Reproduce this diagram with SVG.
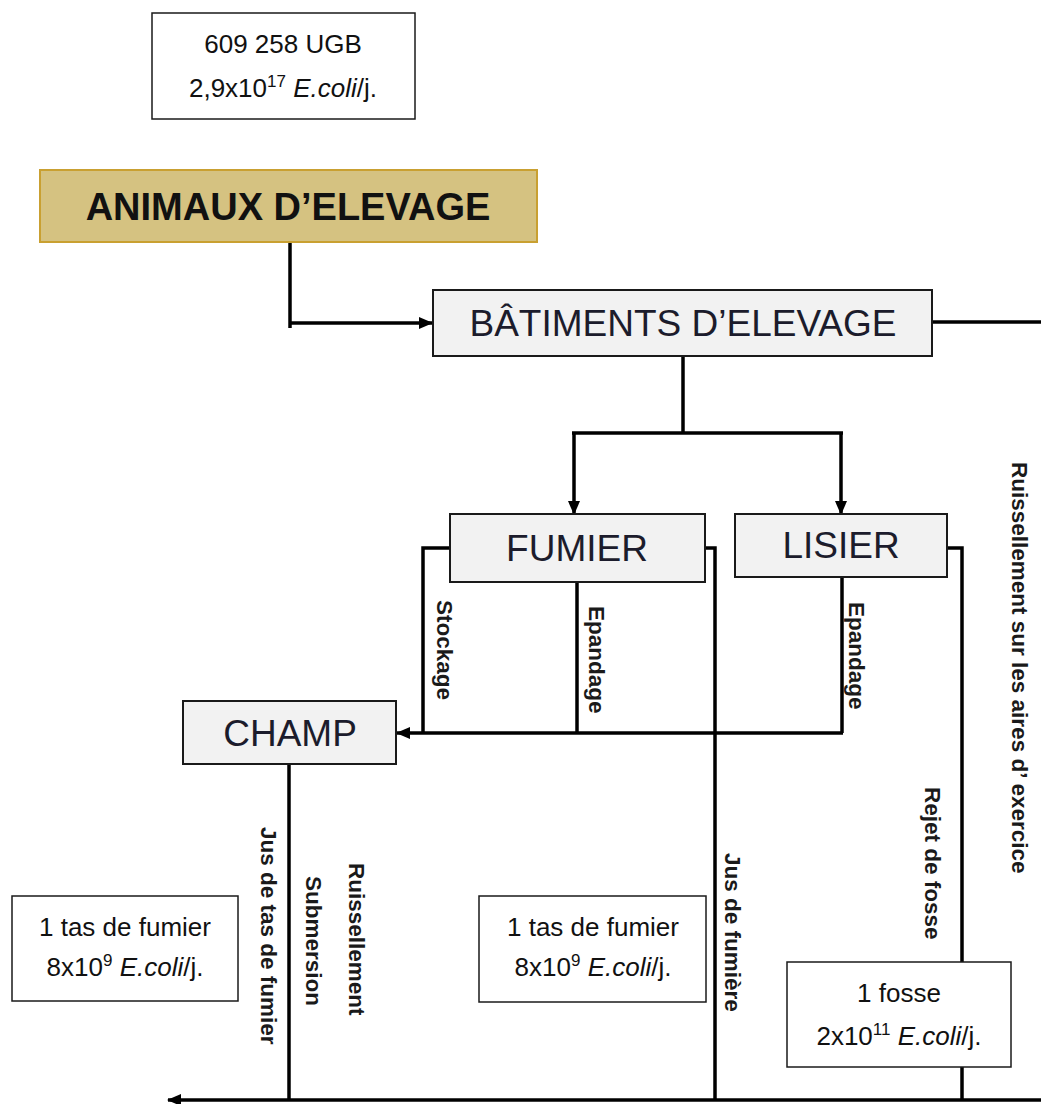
<svg xmlns="http://www.w3.org/2000/svg" width="1041" height="1104" viewBox="0 0 1041 1104">
<style>
.box{fill:#f2f2f2;stroke:#1a1a1a;stroke-width:2}
.wbox{fill:#fff;stroke:#1a1a1a;stroke-width:1.5}
.lbl{font-family:"Liberation Sans",Arial,sans-serif;font-size:37px;fill:#1c1c2c;text-anchor:middle}
.info{font-family:"Liberation Sans",Arial,sans-serif;font-size:26px;fill:#111;text-anchor:middle}
.vt{font-family:"Liberation Sans",Arial,sans-serif;font-size:22.5px;font-weight:bold;fill:#1a1a1a}
.c{fill:none;stroke:#000;stroke-width:3.5}
.sup{font-size:17px}
.it{font-style:italic}
</style>
<defs>
<marker id="ah" markerUnits="userSpaceOnUse" markerWidth="14" markerHeight="14" viewBox="0 0 14 14" refX="13" refY="7" orient="auto"><path d="M0,1 L14,7 L0,13 Z" fill="#000"/></marker>
</defs>
<g id="connectors">
<path class="c" d="M290 242 V328"/>
<path class="c" d="M290 323 H432" marker-end="url(#ah)"/>
<path class="c" d="M932 322 H1041"/>
<path class="c" d="M683 356 V433"/>
<path class="c" d="M572 433 H843"/>
<path class="c" d="M574 433 V514" marker-end="url(#ah)"/>
<path class="c" d="M841 433 V514" marker-end="url(#ah)"/>
<path class="c" d="M450 548 H423 V733"/>
<path class="c" d="M577 582 V733"/>
<path class="c" d="M842 577 V733"/>
<path class="c" d="M843 733 H397" marker-end="url(#ah)"/>
<path class="c" d="M705 548 H715 V1100"/>
<path class="c" d="M947 548 H962 V1100"/>
<path class="c" d="M289 764 V1100"/>
<path class="c" d="M1041 1100 H168" marker-end="url(#ah)"/>
</g>
<g id="info-top">
<rect class="wbox" x="152" y="13" width="263" height="106"/>
<text class="info" x="283" y="53">609 258 UGB</text>
<text class="info" x="283" y="97">2,9x10<tspan class="sup" dy="-10">17</tspan><tspan dy="10"> </tspan><tspan class="it">E.coli</tspan>/j.</text>
</g>
<g id="animaux">
<rect x="40" y="170" width="497" height="72" fill="#d5c281" stroke="#c9a031" stroke-width="2"/>
<text x="288" y="220" font-family="'Liberation Sans',Arial,sans-serif" font-size="38" font-weight="bold" fill="#111" text-anchor="middle">ANIMAUX D’ELEVAGE</text>
</g>
<g id="batiments">
<rect class="box" x="433" y="290" width="499" height="66"/>
<text class="lbl" x="683" y="336">BÂTIMENTS D’ELEVAGE</text>
</g>
<g id="fumier">
<rect class="box" x="450" y="514" width="255" height="68"/>
<text class="lbl" x="577" y="561">FUMIER</text>
</g>
<g id="lisier">
<rect class="box" x="735" y="514" width="212" height="63"/>
<text class="lbl" x="841" y="558">LISIER</text>
</g>
<g id="champ">
<rect class="box" x="183" y="701" width="213" height="63"/>
<text class="lbl" x="290" y="746">CHAMP</text>
</g>
<g id="info-left">
<rect class="wbox" x="12" y="896" width="226" height="105"/>
<text class="info" x="125" y="936">1 tas de fumier</text>
<text class="info" x="125" y="976">8x10<tspan class="sup" dy="-10">9</tspan><tspan dy="10"> </tspan><tspan class="it">E.coli</tspan>/j.</text>
</g>
<g id="info-mid">
<rect class="wbox" x="479" y="896" width="227" height="106"/>
<text class="info" x="593" y="936">1 tas de fumier</text>
<text class="info" x="593" y="976">8x10<tspan class="sup" dy="-10">9</tspan><tspan dy="10"> </tspan><tspan class="it">E.coli</tspan>/j.</text>
</g>
<g id="info-fosse">
<rect class="wbox" x="787" y="962" width="224" height="105"/>
<text class="info" x="899" y="1002">1 fosse</text>
<text class="info" x="899" y="1045">2x10<tspan class="sup" dy="-10">11</tspan><tspan dy="10"> </tspan><tspan class="it">E.coli</tspan>/j.</text>
</g>
<g id="labels">
<text class="vt" transform="translate(437,600) rotate(90)">Stockage</text>
<text class="vt" transform="translate(589,606) rotate(90)">Epandage</text>
<text class="vt" transform="translate(849,602) rotate(90)">Epandage</text>
<text class="vt" transform="translate(1012,462) rotate(90)">Ruissellement sur les aires d’ exercice</text>
<text class="vt" transform="translate(925,787) rotate(90)">Rejet de fosse</text>
<text class="vt" transform="translate(725,853) rotate(90)">Jus de fumière</text>
<text class="vt" transform="translate(261,827) rotate(90)">Jus de tas de fumier</text>
<text class="vt" transform="translate(306,876) rotate(90)">Submersion</text>
<text class="vt" transform="translate(349,863) rotate(90)">Ruissellement</text>
</g>
</svg>
